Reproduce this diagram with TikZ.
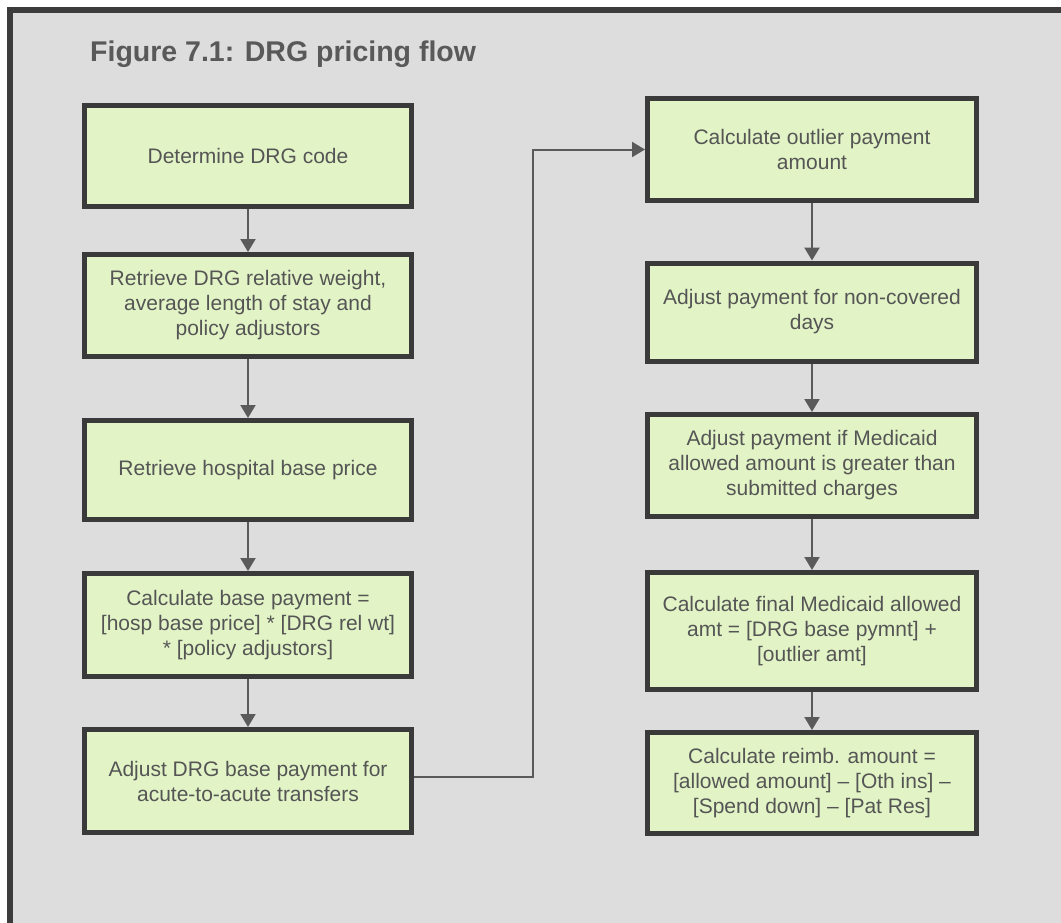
\documentclass[tikz,border=0pt]{standalone}
\usepackage{fontspec}
\setmainfont{Liberation Sans}
\usetikzlibrary{arrows.meta}
\definecolor{bggray}{HTML}{DDDDDD}
\definecolor{framegray}{HTML}{3C3C3C}
\definecolor{boxfill}{HTML}{E2F4C6}
\definecolor{boxline}{HTML}{3A3A3A}
\definecolor{txtgray}{HTML}{555555}
\definecolor{titlegray}{HTML}{595959}
\definecolor{linkgray}{HTML}{5A5A5A}
\tikzset{
  stepbox/.style={draw=boxline, line width=5pt, fill=boxfill, text=txtgray,
    font=\fontsize{21}{25}\selectfont, align=center, inner sep=4pt},
  lbox/.style={stepbox, minimum width=327pt},
  rbox/.style={stepbox, minimum width=329pt},
  link/.style={draw=linkgray, line width=2pt, -{Triangle[length=13pt,width=15pt]}}
}
\begin{document}
\begin{tikzpicture}[x=1pt,y=-1pt]
\useasboundingbox (0,0) rectangle (1061,922);
\clip (0,0) rectangle (1061,922);
\fill[white] (0,0) rectangle (1061,922);
\draw[framegray, line width=6pt, fill=bggray] (10,10) rectangle (1080,940);
\node[anchor=base west, inner sep=0pt, text=titlegray, font=\fontsize{28.5}{32}\selectfont\bfseries] (title) at (90,61) {Figure 7.1: DRG pricing flow};

\node[lbox, minimum height=101pt] (L1) at (248,156) {Determine DRG code};
\node[lbox, minimum height=102pt] (L2) at (248,305.5) {Retrieve DRG relative weight,\\average length of stay and\\policy adjustors};
\node[lbox, minimum height=99pt] (L3) at (248,470) {Retrieve hospital base price};
\node[lbox, minimum height=103pt] (L4) at (248,625) {Calculate base payment =\\{}[hosp base price] * [DRG rel wt]\\* [policy adjustors]};
\node[lbox, minimum height=103pt] (L5) at (248,781) {Adjust DRG base payment for\\acute-to-acute transfers};

\node[rbox, minimum height=102pt] (R1) at (812,149.5) {Calculate outlier payment\\amount};
\node[rbox, minimum height=98pt] (R2) at (812,312) {Adjust payment for non-covered\\days};
\node[rbox, minimum height=102pt] (R3) at (812,465.5) {Adjust payment if Medicaid\\allowed amount is greater than\\submitted charges};
\node[rbox, minimum height=117pt] (R4) at (812,631) {Calculate final Medicaid allowed\\amt = [DRG base pymnt] +\\{}[outlier amt]};
\node[rbox, minimum height=101pt] (R5) at (812,783) {Calculate reimb. amount =\\{}[allowed amount] – [Oth ins] –\\{}[Spend down] – [Pat Res]};

\coordinate (turn) at (533,777);
\draw[link] (L1) -- (L2);
\draw[link] (L2) -- (L3);
\draw[link] (L3) -- (L4);
\draw[link] (L4) -- (L5);
\draw[link] (L5.east |- turn) -- (turn) |- (R1.west);
\draw[link] (R1) -- (R2);
\draw[link] (R2) -- (R3);
\draw[link] (R3) -- (R4);
\draw[link] (R4) -- (R5);
\end{tikzpicture}
\end{document}
